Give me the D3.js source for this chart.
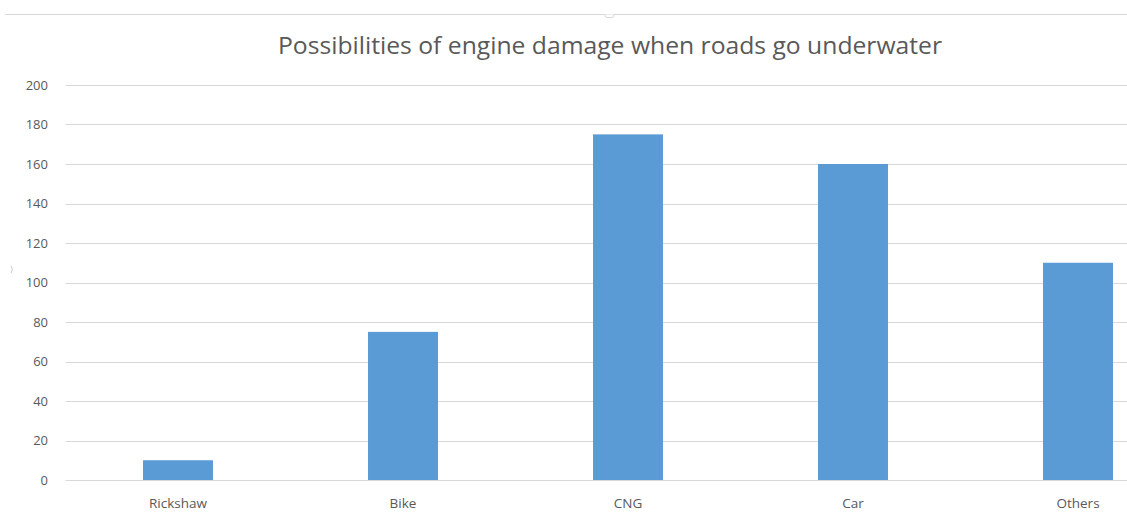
<!DOCTYPE html>
<html>
<head>
<meta charset="utf-8">
<script src="https://cdn.jsdelivr.net/npm/d3@7"></script>
<style>
  html, body { margin: 0; padding: 0; background: #fff; }
  svg { display: block; }
</style>
</head>
<body>
<script>
// Vehicle categories and how many reported engine damage
const categories = ["Rickshaw", "Bike", "CNG", "Car", "Others"];
const values = [10, 75, 175, 160, 110];
const yTicks = [0, 20, 40, 60, 80, 100, 120, 140, 160, 180, 200];
const title = "Possibilities of engine damage when roads go underwater";

const W = 1127, H = 522;
const svg = d3.select("body").append("svg").attr("width", W).attr("height", H);

// Chart frame: top edge with a small handle notch
svg.append("line")
  .attr("x1", 5).attr("x2", W).attr("y1", 14.5).attr("y2", 14.5)
  .attr("stroke", "#d9d9d9").attr("stroke-width", 1);
svg.append("path")
  .attr("d", "M605,14.5 L606,17.5 L613,17.5 L614,14.5")
  .attr("fill", "#fff").attr("stroke", "#d9d9d9").attr("stroke-width", 1);
svg.append("path")
  .attr("d", "M11,266 Q14,269.5 11,273")
  .attr("fill", "none").attr("stroke", "#c8c8c8").attr("stroke-width", 1);

const plotLeft = 65.5, plotRight = 1190.5, plotTop = 85, plotBottom = 480;

const x = d3.scaleBand().domain(categories).range([plotLeft, plotRight]).paddingInner(0.689).paddingOuter(0.3445);
const y = d3.scaleLinear().domain([0, 200]).range([plotBottom, plotTop]);

// Horizontal gridlines
svg.append("g").selectAll("line").data(yTicks).join("line")
  .attr("x1", plotLeft).attr("x2", W)
  .attr("y1", d => Math.round(y(d)) + 0.5).attr("y2", d => Math.round(y(d)) + 0.5)
  .attr("stroke", "#d9d9d9").attr("stroke-width", 1);

// Y axis labels
const yAxis = d3.axisLeft(y).tickValues(yTicks).tickSize(0).tickPadding(0);
const gy = svg.append("g").attr("transform", "translate(48,0)").call(yAxis);
gy.select(".domain").remove();
gy.selectAll("text")
  .attr("font-family", "'Open Sans', sans-serif").attr("font-size", 13)
  .attr("fill", "#595959");

// Bars
svg.append("g").selectAll("rect").data(values).join("rect")
  .attr("x", (d, i) => x(categories[i]))
  .attr("width", x.bandwidth())
  .attr("y", d => y(d))
  .attr("height", d => y(0) - y(d))
  .attr("fill", "#5b9bd5");

// Category labels
const xAxis = d3.axisBottom(x).tickSize(0).tickPadding(0);
const gx = svg.append("g").attr("transform", "translate(0,498)").call(xAxis);
gx.select(".domain").remove();
gx.selectAll("text")
  .attr("font-family", "'Open Sans', sans-serif").attr("font-size", 13.5)
  .attr("fill", "#595959");

// Title
svg.append("text")
  .attr("x", 610).attr("y", 54)
  .attr("text-anchor", "middle")
  .attr("font-family", "'Liberation Sans Narrow', 'Open Sans', sans-serif").attr("font-size", 24)
  .attr("fill", "#595959")
  .attr("textLength", 664).attr("lengthAdjust", "spacingAndGlyphs")
  .text(title);
</script>
</body>
</html>
